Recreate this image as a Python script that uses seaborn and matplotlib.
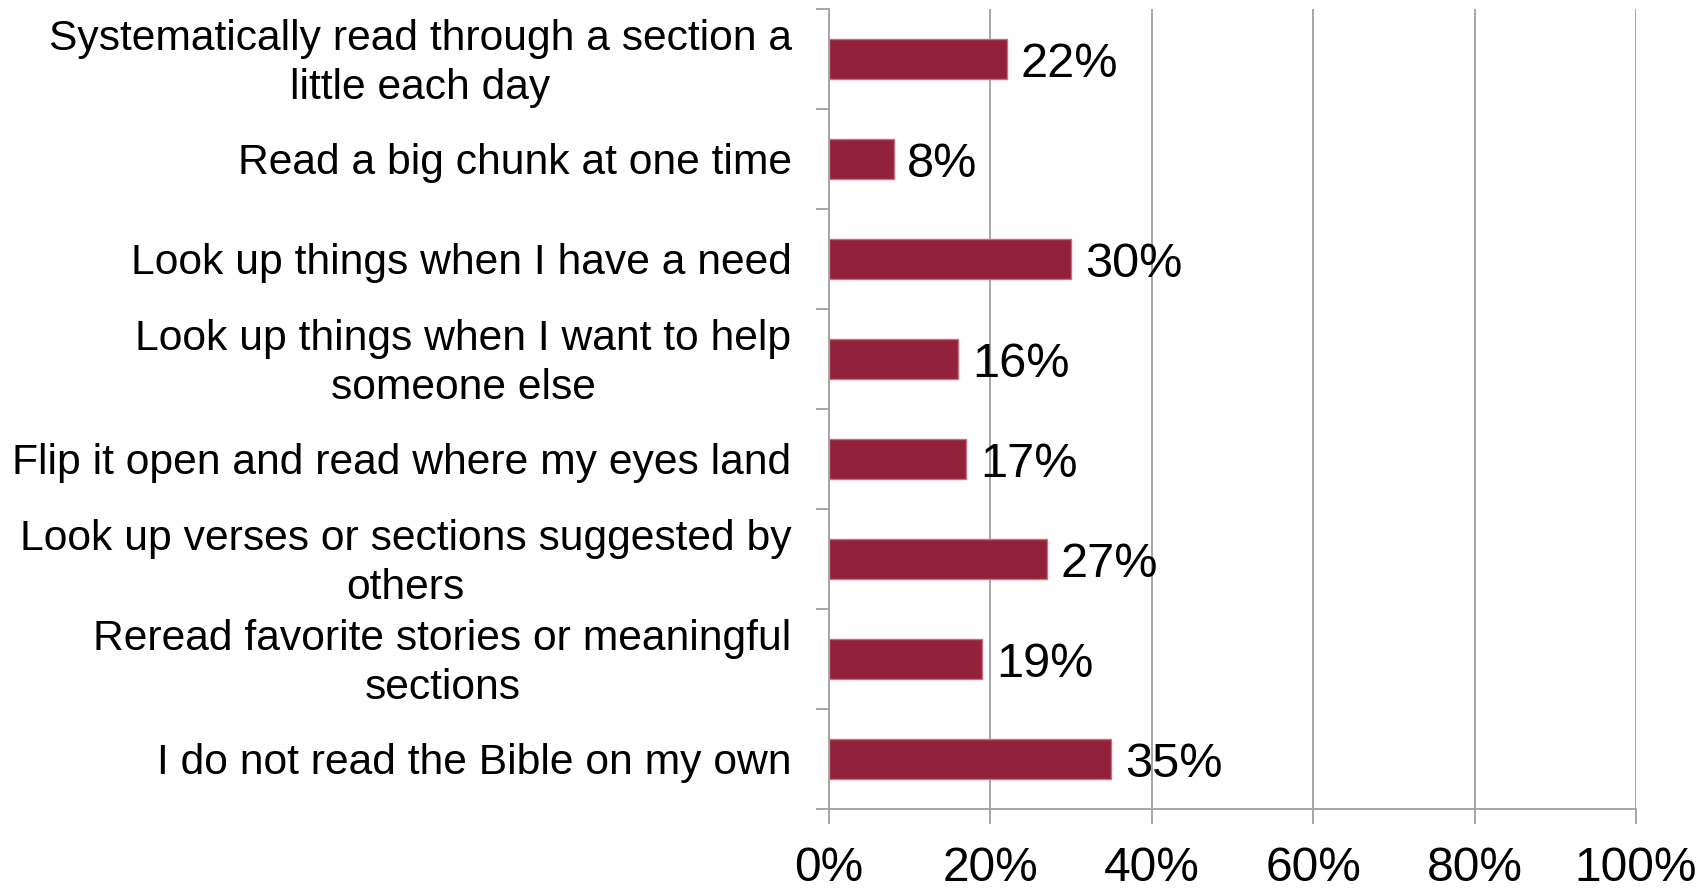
import matplotlib
matplotlib.use("Agg")
import matplotlib.pyplot as plt
from matplotlib.ticker import FixedLocator, PercentFormatter
from matplotlib.transforms import ScaledTranslation
import seaborn as sns
import pandas as pd

categories = [
    "Systematically read through a section a\nlittle each day",
    "Read a big chunk at one time",
    "Look up things when I have a need",
    "Look up things when I want to help\nsomeone else",
    "Flip it open and read where my eyes land",
    "Look up verses or sections suggested by\nothers",
    "Reread favorite stories or meaningful\nsections",
    "I do not read the Bible on my own",
]
values = [22, 8, 30, 16, 17, 27, 19, 35]
x_ticks = [0, 20, 40, 60, 80, 100]

sns.set_theme(style="white")
plt.rcParams["font.family"] = ["Liberation Sans", "DejaVu Sans"]
plt.rcParams["text.color"] = "black"
plt.rcParams["xtick.labelcolor"] = "black"
plt.rcParams["ytick.labelcolor"] = "black"

df = pd.DataFrame({"category": categories, "value": values})

fig = plt.figure(figsize=(16.96, 8.88), dpi=100)
ax = fig.add_axes([0.4888, 0.0890, 0.4758, 0.9010])

bar_color = "#91223A"
sns.barplot(data=df, x="value", y="category", orient="h", color=bar_color,
            saturation=1, width=0.4, edgecolor="#c9707f", linewidth=1, ax=ax)

ax.set_xlim(0, 100)
ax.set_ylim(len(categories) - 0.5, -0.5)
ax.set_xlabel("")
ax.set_ylabel("")

grid_color = "#a6a6a6"
ax.set_xticks(x_ticks)
ax.xaxis.set_major_formatter(PercentFormatter(decimals=0))
ax.grid(axis="x", color=grid_color, linewidth=1.4)
ax.set_axisbelow(True)

for side in ["top", "right"]:
    ax.spines[side].set_visible(False)
for side in ["left", "bottom"]:
    ax.spines[side].set_color(grid_color)
    ax.spines[side].set_linewidth(1.4)

# category boundary ticks on the y axis
ax.yaxis.set_minor_locator(FixedLocator([i - 0.5 for i in range(len(categories) + 1)]))
ax.tick_params(axis="y", which="major", length=0, pad=27, labelsize=30.7, labelcolor="black")
ax.tick_params(axis="y", which="minor", length=9.5, width=1.4, color=grid_color, left=True)
ax.tick_params(axis="x", which="major", length=11, width=1.4, color=grid_color,
               bottom=True, pad=16, labelsize=34.5, labelcolor="black")

# two-line labels sit a little higher so their block is centred on the bar
lift = ScaledTranslation(0, 0.04, fig.dpi_scale_trans)
for lab in ax.get_yticklabels():
    lab.set_multialignment("center")
    lab.set_linespacing(1.27)
    if "\n" in lab.get_text():
        lab.set_transform(lab.get_transform() + lift)

for i, v in enumerate(values):
    ax.text(v + 1.7, i + 0.055, f"{v}%", va="center", ha="left", fontsize=35, color="black")

fig.savefig("out.png", dpi=100)
